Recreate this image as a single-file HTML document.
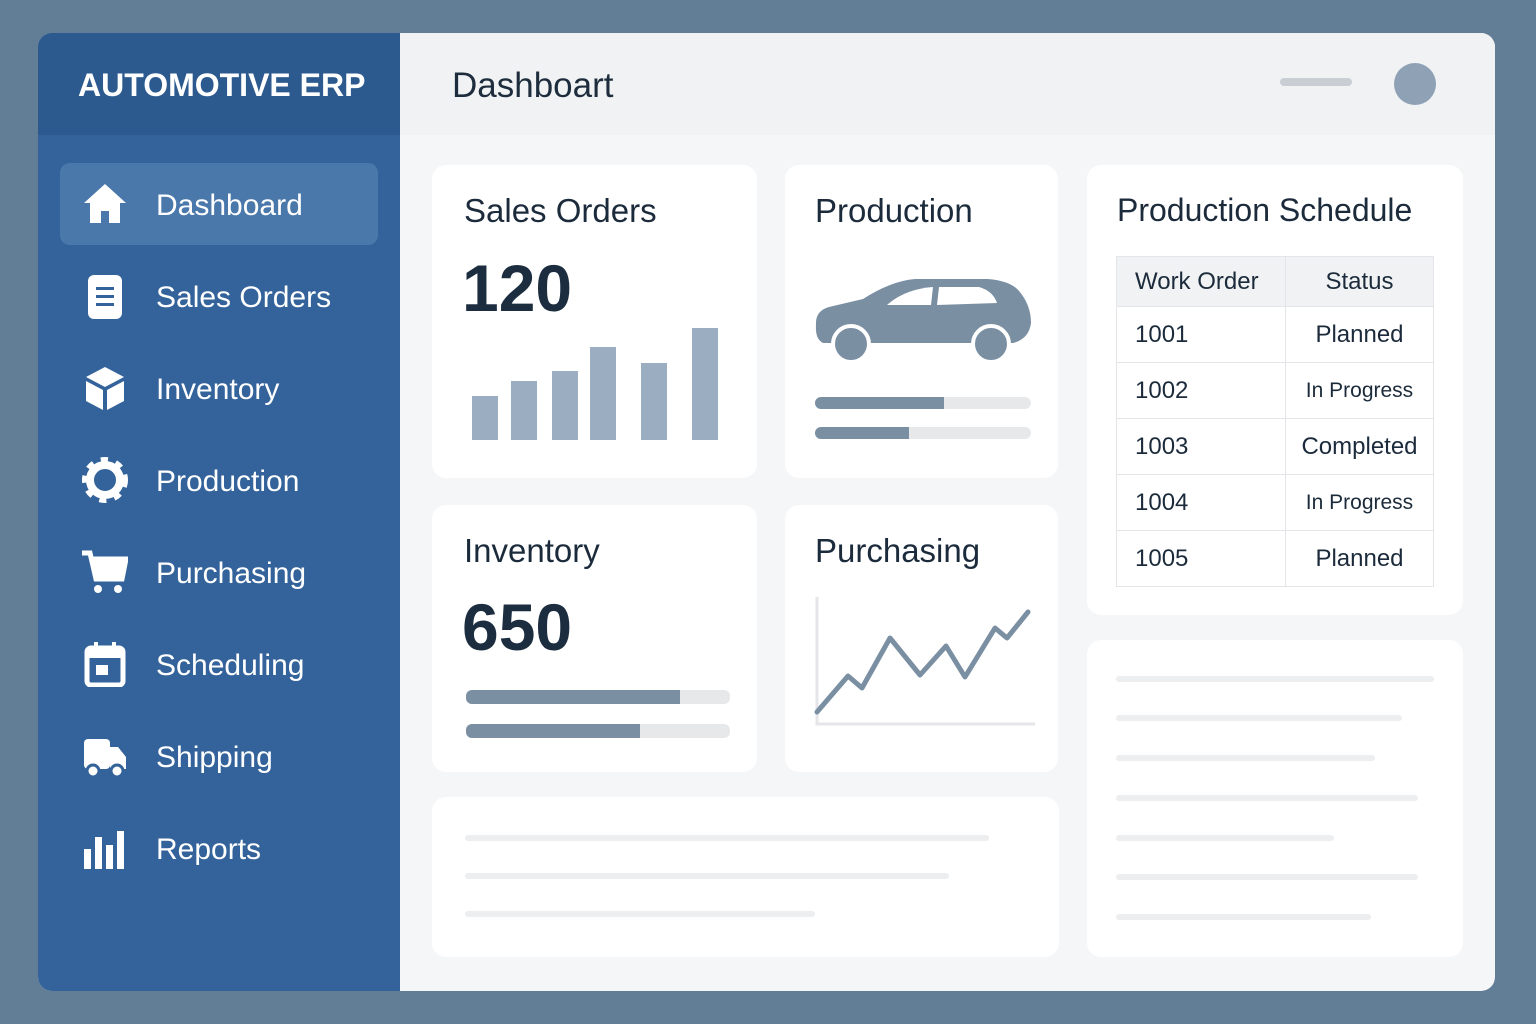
<!DOCTYPE html>
<html><head><meta charset="utf-8"><style>
*{margin:0;padding:0;box-sizing:border-box}
body{width:1536px;height:1024px;background:#627d96;font-family:"Liberation Sans",sans-serif;position:relative;overflow:hidden}
.abs{position:absolute}
#app{left:38px;top:33px;width:1457px;height:958px;border-radius:14px;overflow:hidden;background:#f5f6f7}
#side{left:0;top:0;width:362px;height:958px;background:#33639a}
#brand{left:0;top:0;width:362px;height:102px;background:#2c5a8f;color:#fff;font-weight:bold;font-size:32px;padding:34px 0 0 40px}
.nav{left:22px;width:318px;height:82px;color:#fff;font-size:30px}
.nav span{position:absolute;left:96px;top:26px}
.nav svg{position:absolute;left:22px;top:18px}
#hdr{left:362px;top:0;width:1095px;height:102px;background:#f1f2f3;font-size:35px;color:#1e2d3d;padding:33px 0 0 52px}
.card{background:#fff;border-radius:14px}
.t{font-size:33px;color:#1c2b3b;position:absolute}
.big{font-size:66px;font-weight:bold;color:#1c2d40;position:absolute}
.bar{position:absolute;height:12px;border-radius:6px;background:#e6e8ea}
.bar i{position:absolute;left:0;top:0;height:12px;border-radius:6px 0 0 6px;background:#7b8fa3}
.gl{position:absolute;height:6px;border-radius:3px;background:#eceef0}
table{border-collapse:collapse;font-size:24px;color:#1c2b3b}
td{border:1px solid #e3e5e8;height:56px;padding-left:18px}
</style></head><body>
<div id="app" class="abs">
<div id="side" class="abs">
<div id="brand" class="abs">AUTOMOTIVE ERP</div>
<div class="nav abs" style="top:130px;background:#4a78ab;border-radius:10px"><svg width="46" height="46" viewBox="0 0 46 46"><path d="M23 3L2 22h6v20h11V30h8v12h11V22h6z" fill="#fff"/></svg><span>Dashboard</span></div>
<div class="nav abs" style="top:222px"><svg width="46" height="46"><rect x="6" y="2" width="34" height="44" rx="6" fill="#fff"/><rect x="14" y="14" width="18" height="3" fill="#33639a"/><rect x="14" y="22" width="18" height="3" fill="#33639a"/><rect x="14" y="30" width="18" height="3" fill="#33639a"/></svg><span>Sales Orders</span></div>
<div class="nav abs" style="top:314px"><svg width="46" height="46"><path d="M23 2L42 12 23 22 4 12z" fill="#fff"/><path d="M4 16l17 9v20L4 36z" fill="#fff"/><path d="M42 16l-17 9v20l17-9z" fill="#fff"/></svg><span>Inventory</span></div>
<div class="nav abs" style="top:406px"><svg width="46" height="46"><circle cx="23" cy="23" r="15" fill="none" stroke="#fff" stroke-width="8"/><circle cx="23" cy="23" r="20" fill="none" stroke="#fff" stroke-width="6" stroke-dasharray="7 8"/></svg><span>Production</span></div>
<div class="nav abs" style="top:498px"><svg width="46" height="46"><path d="M0 4h8l6 26h26l4-20H11" fill="none" stroke="#fff" stroke-width="5"/><path d="M12 10h32l-4 20H14z" fill="#fff"/><circle cx="16" cy="40" r="4" fill="#fff"/><circle cx="36" cy="40" r="4" fill="#fff"/></svg><span>Purchasing</span></div>
<div class="nav abs" style="top:590px"><svg width="46" height="46"><rect x="5" y="7" width="36" height="37" rx="4" fill="none" stroke="#fff" stroke-width="5"/><rect x="5" y="7" width="36" height="10" fill="#fff"/><rect x="12" y="1" width="4" height="10" fill="#fff"/><rect x="30" y="1" width="4" height="10" fill="#fff"/><rect x="14" y="24" width="12" height="10" fill="#fff"/></svg><span>Scheduling</span></div>
<div class="nav abs" style="top:682px"><svg width="46" height="46"><rect x="2" y="6" width="26" height="30" rx="4" fill="#fff"/><path d="M28 14h8l8 10v12H28z" fill="#fff"/><circle cx="11" cy="38" r="6" fill="#fff" stroke="#33639a" stroke-width="3"/><circle cx="35" cy="38" r="6" fill="#fff" stroke="#33639a" stroke-width="3"/></svg><span>Shipping</span></div>
<div class="nav abs" style="top:774px"><svg width="46" height="46"><rect x="2" y="24" width="7" height="20" fill="#fff"/><rect x="13" y="12" width="7" height="32" fill="#fff"/><rect x="24" y="20" width="7" height="24" fill="#fff"/><rect x="35" y="6" width="7" height="38" fill="#fff"/></svg><span>Reports</span></div>
</div>
<div id="hdr" class="abs">Dashboart
<div class="abs" style="left:880px;top:45px;width:72px;height:8px;border-radius:4px;background:#c9ced4"></div>
<div class="abs" style="left:994px;top:30px;width:42px;height:42px;border-radius:50%;background:#8ea1b5"></div>
</div>
</div>

<div class="card abs" style="left:432px;top:165px;width:325px;height:313px">
<div class="t" style="left:32px;top:27px">Sales Orders</div>
<div class="big" style="left:30px;top:85px">120</div>
<svg id="salesChart" class="abs" style="left:0;top:0" width="325" height="313"></svg>
</div>
<div class="card abs" style="left:785px;top:165px;width:273px;height:313px">
<div class="t" style="left:30px;top:27px">Production</div>
<svg class="abs" style="left:28px;top:112px" width="222" height="86"><path d="M3 48 Q2 34 16 30 L50 22 Q78 4 102 2 L175 2 Q198 4 206 14 Q218 28 218 46 Q216 62 200 66 L10 66 Q2 62 3 48z" fill="#7b8fa3"/><path d="M74 28 Q92 12 120 10 L118 28z" fill="#fff"/><path d="M126 10 L166 10 Q180 14 184 26 L124 28z" fill="#fff"/><circle cx="38" cy="67" r="18" fill="#7b8fa3" stroke="#fff" stroke-width="4"/><circle cx="178" cy="67" r="18" fill="#7b8fa3" stroke="#fff" stroke-width="4"/></svg>
<div class="bar" style="left:30px;top:232px;width:216px"><i style="width:129px"></i></div>
<div class="bar" style="left:30px;top:262px;width:216px"><i style="width:94px"></i></div>
</div>
<div class="card abs" style="left:432px;top:505px;width:325px;height:267px">
<div class="t" style="left:32px;top:27px">Inventory</div>
<div class="big" style="left:30px;top:84px">650</div>
<div class="bar" style="left:34px;top:185px;width:264px;height:14px"><i style="width:214px;height:14px"></i></div>
<div class="bar" style="left:34px;top:219px;width:264px;height:14px"><i style="width:174px;height:14px"></i></div>
</div>
<div class="card abs" style="left:785px;top:505px;width:273px;height:267px">
<div class="t" style="left:30px;top:27px">Purchasing</div>
<svg id="purchChart" class="abs" style="left:0;top:0" width="273" height="267"></svg>
</div>
<div class="card abs" style="left:1087px;top:165px;width:376px;height:450px">
<div class="t" style="left:30px;top:27px;font-size:32px">Production Schedule</div>
<table class="abs" style="left:29px;top:91px;width:318px">
<tr style="background:#f1f2f3"><td style="width:169px;height:50px">Work Order</td><td style="text-align:center;padding:0;height:50px">Status</td></tr>
<tr><td>1001</td><td style="text-align:center;padding:0">Planned</td></tr>
<tr><td>1002</td><td style="text-align:center;padding:0;font-size:21px">In Progress</td></tr>
<tr><td>1003</td><td style="text-align:center;padding:0">Completed</td></tr>
<tr><td>1004</td><td style="text-align:center;padding:0;font-size:21px">In Progress</td></tr>
<tr><td>1005</td><td style="text-align:center;padding:0">Planned</td></tr>
</table>
</div>
<div class="card abs" style="left:432px;top:797px;width:627px;height:160px">
<div class="gl" style="left:33px;top:38px;width:524px"></div>
<div class="gl" style="left:33px;top:76px;width:484px"></div>
<div class="gl" style="left:33px;top:114px;width:350px"></div>
</div>
<div class="card abs" style="left:1087px;top:640px;width:376px;height:317px">
<div class="gl" style="left:29px;top:36px;width:318px"></div>
<div class="gl" style="left:29px;top:75px;width:286px"></div>
<div class="gl" style="left:29px;top:115px;width:259px"></div>
<div class="gl" style="left:29px;top:155px;width:302px"></div>
<div class="gl" style="left:29px;top:195px;width:218px"></div>
<div class="gl" style="left:29px;top:234px;width:302px"></div>
<div class="gl" style="left:29px;top:274px;width:255px"></div>
</div>
<script>
const salesValues=[44,59,69,93,77,112];
const purchValues=[5,41,29,79,42,71,40,89,79,105];
const NS="http://www.w3.org/2000/svg";
const sc=document.getElementById('salesChart');
const barX=[40,79,120,158,209,260];
function sy(v){return 275-v;}
salesValues.forEach((v,i)=>{const r=document.createElementNS(NS,'rect');
r.setAttribute('x',barX[i]);r.setAttribute('y',sy(v));r.setAttribute('width',26);r.setAttribute('height',275-sy(v));r.setAttribute('fill','#9badc0');


sc.appendChild(r);});
const pc=document.getElementById('purchChart');
const ax=document.createElementNS(NS,'path');ax.setAttribute('d','M32 92 V219 H250');ax.setAttribute('stroke','#e4e6e9');ax.setAttribute('stroke-width','3');ax.setAttribute('fill','none');


pc.appendChild(ax);
const px=[32,63,77,105,135,161,180,210,222,243];
function py(v){return 212-v;}
const ln=document.createElementNS(NS,'polyline');
ln.setAttribute('points',purchValues.map((v,i)=>px[i]+','+py(v)).join(' '));
ln.setAttribute('fill','none');ln.setAttribute('stroke','#7b8fa3');ln.setAttribute('stroke-width','5');ln.setAttribute('stroke-linejoin','round');ln.setAttribute('stroke-linecap','round');


pc.appendChild(ln);
</script>
</body></html>
